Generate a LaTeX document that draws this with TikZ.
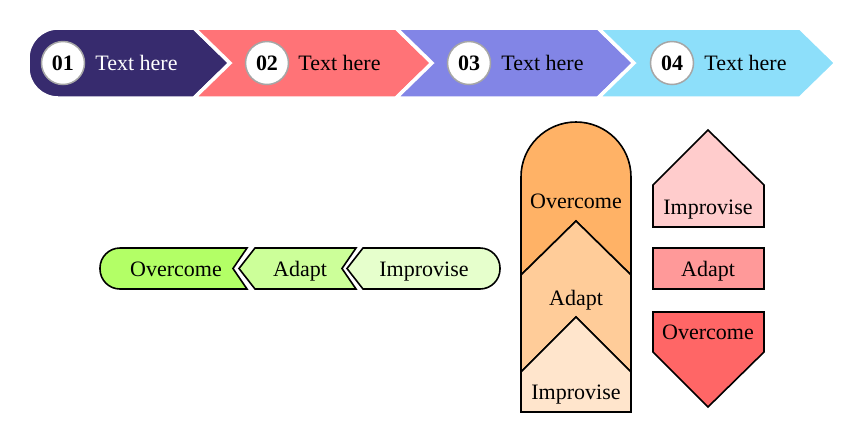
\documentclass[tikz,border=0pt]{standalone}
\usepackage{fontspec}
\setmainfont{Liberation Serif}
\usepackage{xcolor}
\definecolor{bannerA}{HTML}{372B6E}
\definecolor{bannerB}{HTML}{FF7377}
\definecolor{bannerC}{HTML}{8285E6}
\definecolor{bannerD}{HTML}{8DDFFA}
\definecolor{limeA}{HTML}{B3FF66}
\definecolor{limeB}{HTML}{CCFF99}
\definecolor{limeC}{HTML}{E6FFCC}
\definecolor{peachA}{HTML}{FFB266}
\definecolor{peachB}{HTML}{FFCC99}
\definecolor{peachC}{HTML}{FFE5CC}
\definecolor{roseA}{HTML}{FFCCCC}
\definecolor{roseB}{HTML}{FF9999}
\definecolor{roseC}{HTML}{FF6666}

\begin{document}
\begin{tikzpicture}[x=0.5pt,y=-0.5pt,
    font=\fontsize{11}{13}\selectfont,
    every node/.style={text height=7.5pt,text depth=0pt},
    seg/.style={draw=white,line width=1.75pt},
    numdot/.style={circle,draw=black!35,line width=0.75pt,fill=white,
      minimum size=21.5pt,inner sep=0pt,font=\fontsize{11}{13}\selectfont\bfseries},
    lbl/.style={anchor=west,inner sep=0pt},
    tag/.style={draw=black,line width=0.8pt,line join=miter}]
    \useasboundingbox (0,0) rectangle (864,441);

    % banner
    \draw[seg,fill=bannerA] (194,28) -- (230,63) -- (194,98) [rounded corners=15pt] -- (28,98) -- (28,28) [sharp corners] -- cycle;
    \draw[seg,fill=bannerB] (194,28) -- (396,28) -- (432,63) -- (396,98) -- (194,98) -- (230,63) -- cycle;
    \draw[seg,fill=bannerC] (396,28) -- (598,28) -- (634,63) -- (598,98) -- (396,98) -- (432,63) -- cycle;
    \draw[seg,fill=bannerD] (598,28) -- (800,28) -- (836,63) -- (800,98) -- (598,98) -- (634,63) -- cycle;

    \node[numdot] (num1) at (63,63) {01};
    \node[lbl,text=white] (txt1) at (95,63) {Text here};
    \node[numdot] (num2) at (267,63) {02};
    \node[lbl] (txt2) at (298,63) {Text here};
    \node[numdot] (num3) at (469,63) {03};
    \node[lbl] (txt3) at (501,63) {Text here};
    \node[numdot] (num4) at (672,63) {04};
    \node[lbl] (txt4) at (704,63) {Text here};

    % horizontal chain
    \draw[tag,fill=limeA] (247,248) -- (233,268.5) -- (247,289) [rounded corners=10pt] -- (100,289) -- (100,248) [sharp corners] -- cycle;
    \draw[tag,fill=limeB] (255,248) -- (356,248) -- (342,268.5) -- (356,289) -- (255,289) -- (239,268.5) -- cycle;
    \draw[tag,fill=limeC] (363,248) -- (347,268.5) -- (363,289) [rounded corners=10pt] -- (500,289) -- (500,248) [sharp corners] -- cycle;
    \node (hOver) at (176,269) {Overcome};
    \node (hAdapt) at (300,269) {Adapt};
    \node (hImpr) at (424,269) {Improvise};

    % vertical stack
    \draw[tag,fill=peachA] (521,275) [rounded corners=27.5pt] -- (521,122) -- (631,122) [sharp corners] -- (631,275) -- (576,221) -- cycle;
    \draw[tag,fill=peachB] (521,275) -- (576,221) -- (631,275) -- (631,372) -- (576,317) -- (521,372) -- cycle;
    \draw[tag,fill=peachC] (521,372) -- (576,317) -- (631,372) -- (631,412) -- (521,412) -- cycle;
    \node (vOver) at (576,201) {Overcome};
    \node (vAdapt) at (576,298) {Adapt};
    \node (vImpr) at (576,392) {Improvise};

    % arrows
    \draw[tag,fill=roseA] (653,227) -- (653,185) -- (708,130) -- (764,185) -- (764,227) -- cycle;
    \draw[tag,fill=roseB] (653,248) rectangle (764,289);
    \draw[tag,fill=roseC] (653,312) -- (764,312) -- (764,352) -- (708,407) -- (653,352) -- cycle;
    \node (rImpr) at (708,207) {Improvise};
    \node (rAdapt) at (708,269) {Adapt};
    \node (rOver) at (708,332) {Overcome};
\end{tikzpicture}
\end{document}
